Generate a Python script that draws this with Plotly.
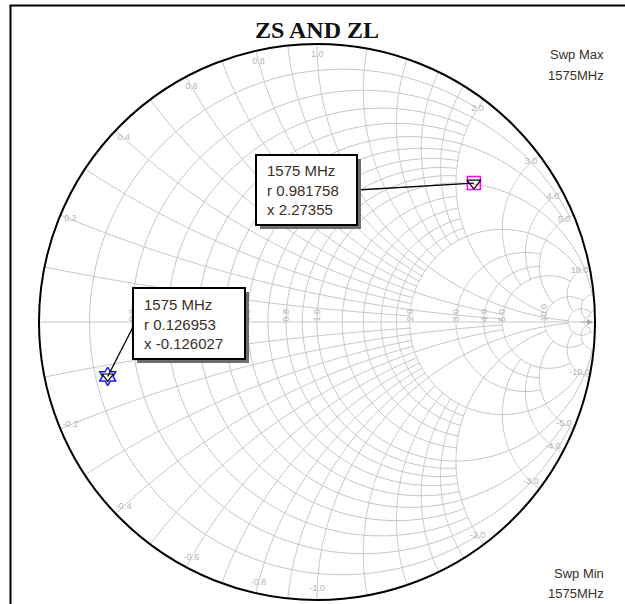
import numpy as np
import plotly.graph_objects as go

# ---------------- data ----------------
TITLE = "ZS AND ZL"
FREQ_TEXT = "1575 MHz"
SWEEP_MAX = "1575MHz"
SWEEP_MIN = "1575MHz"

ZL_R = [0.981758]
ZL_X = [2.27355]
ZS_R = [0.126953]
ZS_X = [-0.126027]

# Smith grid: constant-resistance circles and how far (|x|) each is drawn
R_GRID = [0.1, 0.2, 0.3, 0.4, 0.5, 0.6, 0.7, 0.8, 0.9, 1.0,
          1.2, 1.4, 1.6, 1.8, 2.0, 3.0, 4.0, 5.0, 10.0, 20.0, 50.0]
R_GRID_XMAX = [2, 5, 2, 2, 5, 2, 2, 2, 2, 20,
               2, 2, 2, 2, 10, 5, 5, 10, 20, 50, 50]
# constant-reactance arcs and how far (r) each is drawn
X_GRID = [0.1, 0.2, 0.3, 0.4, 0.5, 0.6, 0.7, 0.8, 0.9, 1.0,
          1.2, 1.4, 1.6, 1.8, 2.0, 3.0, 4.0, 5.0, 10.0, 20.0, 50.0]
X_GRID_RMAX = [2, 5, 2, 2, 5, 2, 2, 2, 2, 20,
               2, 2, 2, 2, 10, 5, 5, 10, 20, 50, 50]

R_TICKS = [0.2, 0.4, 0.6, 0.8, 1.0, 2.0, 3.0, 4.0, 5.0, 10.0]
X_TICKS = [0.2, 0.4, 0.6, 0.8, 1.0, 2.0, 3.0, 4.0, 5.0, 10.0]

# ---------------- geometry / style ----------------
W, H = 625, 604
CX, CY, RAD = 317, 322, 278
GRID_COLOR = "#c4c4c4"
LABEL_COLOR = "#b4b4b4"
TEXT_COLOR = "#3b2f1f"
LABEL_INSET = 0.02


def px(x):
    return x / W


def py(y):
    return 1 - y / H


def to_pixel(r, x):
    z = complex(r, x)
    g = (z - 1) / (z + 1)
    return CX + RAD * g.real, CY - RAD * g.imag


# grid lines
g_re, g_im = [], []
for r, xm in zip(R_GRID, R_GRID_XMAX):
    t = np.linspace(-np.arctan(xm), np.arctan(xm), 301)
    g_re += [r] * len(t) + [None]
    g_im += [float(v) for v in np.tan(t)] + [None]
for x, rm in zip(X_GRID, X_GRID_RMAX):
    t = np.linspace(0, np.arctan(rm), 201)
    for s in (1, -1):
        g_re += [float(v) for v in np.tan(t)] + [None]
        g_im += [s * x] * len(t) + [None]
# real axis
t = np.linspace(0, np.arctan(1e5), 50)
g_re += [float(v) for v in np.tan(t)]
g_im += [0.0] * len(t)

fig = go.Figure()
fig.add_trace(go.Scattersmith(real=g_re, imag=g_im, mode="lines",
                              line=dict(color=GRID_COLOR, width=1),
                              hoverinfo="skip", showlegend=False))

# imaginary-axis labels just inside the boundary
lab_re, lab_im, lab_txt = [], [], []
for x in X_TICKS:
    for s in (1, -1):
        lab_re.append(LABEL_INSET * (1 + x * x))
        lab_im.append(s * x)
        lab_txt.append(("%.1f" % x) if s > 0 else ("-%.1f" % x))
fig.add_trace(go.Scattersmith(real=lab_re, imag=lab_im, mode="text", text=lab_txt,
                              textfont=dict(size=9, color=LABEL_COLOR, family="Liberation Sans"),
                              hoverinfo="skip", showlegend=False))

# markers
fig.add_trace(go.Scattersmith(real=ZL_R, imag=ZL_X, mode="markers",
                              marker=dict(symbol="square-open", size=13, color="#ff00ff",
                                          line=dict(width=1.5, color="#ff00ff")),
                              showlegend=False))
fig.add_trace(go.Scattersmith(real=ZL_R, imag=ZL_X, mode="markers",
                              marker=dict(symbol="triangle-down-open", size=12, color="black",
                                          line=dict(width=1.3, color="black")),
                              showlegend=False))
fig.add_trace(go.Scattersmith(real=ZS_R, imag=ZS_X, mode="markers",
                              marker=dict(symbol="hexagram-open", size=14, color="#1a1aff",
                                          line=dict(width=1.5, color="#1a1aff")),
                              showlegend=False))
fig.add_trace(go.Scattersmith(real=ZS_R, imag=ZS_X, mode="markers",
                              marker=dict(symbol="triangle-down-open", size=10, color="black",
                                          line=dict(width=1.2, color="black")),
                              showlegend=False))

shapes = []
annotations = []

# outer frame
shapes.append(dict(type="rect", xref="paper", yref="paper",
                   x0=px(10.5), y0=py(5.5), x1=px(640), y1=py(620),
                   line=dict(color="black", width=2), fillcolor="rgba(0,0,0,0)"))

# marker callouts
callouts = [
    # (r, x, box(x0,y0,x1,y1), leader start, text x)
    (ZL_R[0], ZL_X[0], (256, 155, 357, 225), (357, 190), 265),
    (ZS_R[0], ZS_X[0], (133, 288, 245, 359), (133, 327), 142),
]
for r, x, (bx0, by0, bx1, by1), (lx, ly), tx in callouts:
    mx, my = to_pixel(r, x)
    shapes.append(dict(type="line", xref="paper", yref="paper",
                       x0=px(lx), y0=py(ly), x1=px(mx), y1=py(my),
                       line=dict(color="black", width=1.3)))
    shapes.append(dict(type="rect", xref="paper", yref="paper",
                       x0=px(bx0 + 4), y0=py(by0 + 4), x1=px(bx1 + 4), y1=py(by1 + 4),
                       line=dict(width=0), fillcolor="#6e6e6e"))
    shapes.append(dict(type="rect", xref="paper", yref="paper",
                       x0=px(bx0), y0=py(by0), x1=px(bx1), y1=py(by1),
                       line=dict(color="black", width=2), fillcolor="white"))
    txt = "%s<br>r %s<br>x %s" % (FREQ_TEXT, ("%.6f" % r).rstrip("0"),
                                   ("%.6f" % x).rstrip("0") if abs(x) < 1 else ("%.5f" % x).rstrip("0"))
    annotations.append(dict(xref="paper", yref="paper", x=px(tx), y=py((by0 + by1) / 2),
                            xanchor="left", yanchor="middle", showarrow=False, align="left",
                            text=txt,
                            font=dict(family="Liberation Sans", size=15, color=TEXT_COLOR)))

# sweep labels
for text, y in (("Swp Max", 55), (SWEEP_MAX, 75), ("Swp Min", 573), (SWEEP_MIN, 593)):
    annotations.append(dict(xref="paper", yref="paper", x=px(606), y=py(y),
                            xanchor="right", yanchor="middle", showarrow=False, text=text,
                            font=dict(family="Liberation Sans", size=13, color=TEXT_COLOR)))

# arrow on the real axis
annotations.append(dict(xref="paper", yref="paper", axref="pixel", ayref="pixel",
                        x=px(CX + RAD - 2), y=py(CY), ax=-14, ay=0,
                        text="", showarrow=True, arrowhead=2, arrowsize=1.2,
                        arrowwidth=1, arrowcolor="#a8a8a8"))

# title
annotations.append(dict(xref="paper", yref="paper", x=px(317), y=py(30),
                        xanchor="center", yanchor="middle", showarrow=False, text="<b>%s</b>" % TITLE,
                        font=dict(family="Liberation Serif", size=24, color="#111111")))

fig.update_layout(
    width=W, height=H, margin=dict(l=0, r=0, t=0, b=0),
    paper_bgcolor="white", showlegend=False,
    smith=dict(
        domain=dict(x=[px(CX - RAD), px(CX + RAD)], y=[py(CY + RAD), py(CY - RAD)]),
        bgcolor="white",
        realaxis=dict(tickvals=R_TICKS, tickformat=".1f", showgrid=False, showline=False,
                      ticks="", tickangle=-90, side="top",
                      tickfont=dict(size=9, color=LABEL_COLOR, family="Liberation Sans")),
        imaginaryaxis=dict(tickvals=X_TICKS, showgrid=False, showticklabels=False, ticks="",
                           showline=True, linecolor="black", linewidth=2),
    ),
    shapes=shapes, annotations=annotations,
)

fig.write_html("out.html", config={"displayModeBar": False},
               post_script="document.body.style.margin='0';document.body.style.overflow='hidden';")
